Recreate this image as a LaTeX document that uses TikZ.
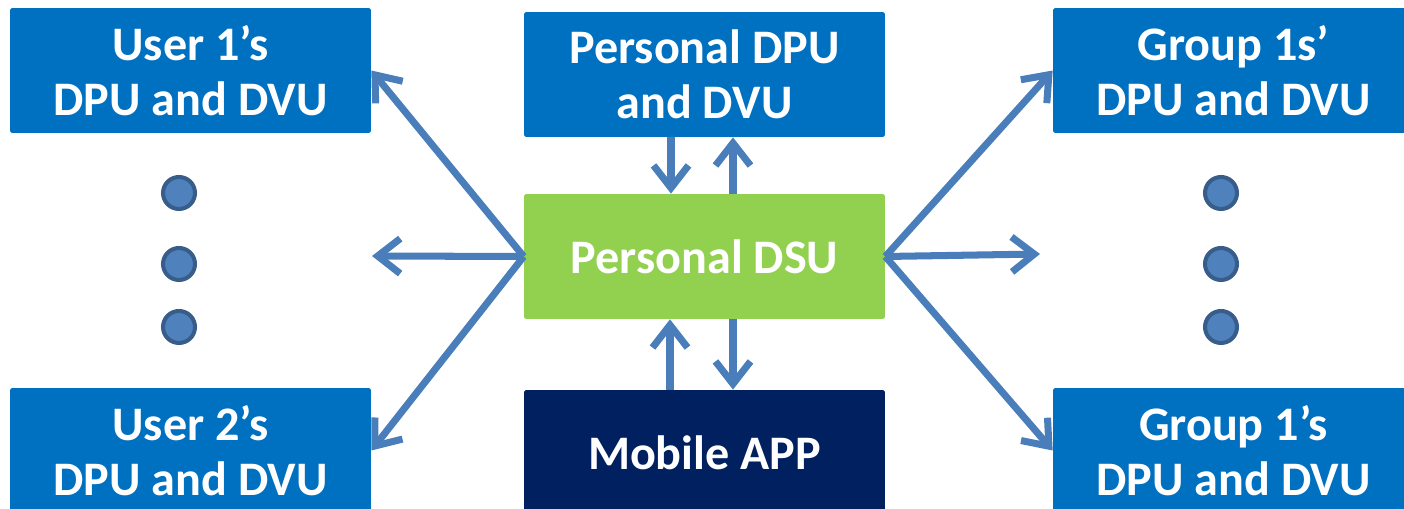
\documentclass[tikz,border=0pt]{standalone}
\usepackage{fontspec}
\setmainfont{Carlito}
\usepackage{tikz}
\usetikzlibrary{arrows.meta, positioning}

\definecolor{boxblue}{HTML}{0070C0}
\definecolor{dsugreen}{HTML}{92D050}
\definecolor{appnavy}{HTML}{002060}
\definecolor{arrowblue}{HTML}{4A7EBB}
\definecolor{dotfill}{HTML}{4F81BD}
\definecolor{dotline}{HTML}{385D8A}

\begin{document}
\begin{tikzpicture}[x=0.02cm, y=-0.02cm,
        unit/.style={rectangle, rounded corners=1pt, minimum width=7.22cm, minimum height=2.5cm, inner sep=0pt, align=center, fill=boxblue, text=white, font=\fontsize{27.4}{31.3}\selectfont\bfseries},
        dsu/.style={unit, fill=dsugreen},
        app/.style={unit, fill=appnavy},
        dot/.style={circle, draw=dotline, line width=2.3pt, fill=dotfill, minimum size=0.64cm, inner sep=0pt},
        link/.style={line width=4pt, arrowblue, -{Straight Barb[length=0.45cm, width=0.7cm]}}
    ]
    \useasboundingbox (0,0) rectangle (1404,509);
    \clip (0,0) rectangle (1404,509);

    % Centre column
    \node[unit] (pdpu) at (704.5, 74.5) {Personal DPU\\and DVU};
    \node[dsu] (psdu) at (704.5, 256.5) {Personal DSU};
    \node[app] (mapp) at (704.5, 452.5) {Mobile APP};

    % User side
    \node[unit] (user1) at (190.5, 70.5) {User 1’s\\DPU and DVU};
    \node[unit] (user2) at (190.5, 450.5) {User 2’s\\DPU and DVU};
    \node[dot] (ldot1) at (179, 193) {};
    \node[dot] (ldot2) at (179, 264) {};
    \node[dot] (ldot3) at (179, 327) {};
    \coordinate (lend) at (372, 256);

    % Group side
    \node[unit] (group1) at (1233.5, 70.5) {Group 1s’\\DPU and DVU};
    \node[unit] (group2) at (1233.5, 450.5) {Group 1’s\\DPU and DVU};
    \node[dot] (rdot1) at (1221, 193) {};
    \node[dot] (rdot2) at (1221, 264) {};
    \node[dot] (rdot3) at (1221, 327) {};
    \coordinate (rend) at (1040, 254);

    % Links
    \draw[link] ([xshift=-0.67cm]pdpu.south) -- ([xshift=-0.67cm]psdu.north);
    \draw[link] ([xshift=0.57cm]psdu.north) -- ([xshift=0.57cm]pdpu.south);
    \draw[link] ([xshift=-0.69cm]mapp.north) -- ([xshift=-0.69cm]psdu.south);
    \draw[link] ([xshift=0.57cm]psdu.south) -- ([xshift=0.57cm]mapp.north);

    \draw[link] (psdu.west) -- (user1.east);
    \draw[link] (psdu.west) -- (lend);
    \draw[link] (psdu.west) -- (user2.east);

    \draw[link] (psdu.east) -- (group1.west);
    \draw[link] (psdu.east) -- (rend);
    \draw[link] (psdu.east) -- (group2.west);

\end{tikzpicture}
\end{document}
